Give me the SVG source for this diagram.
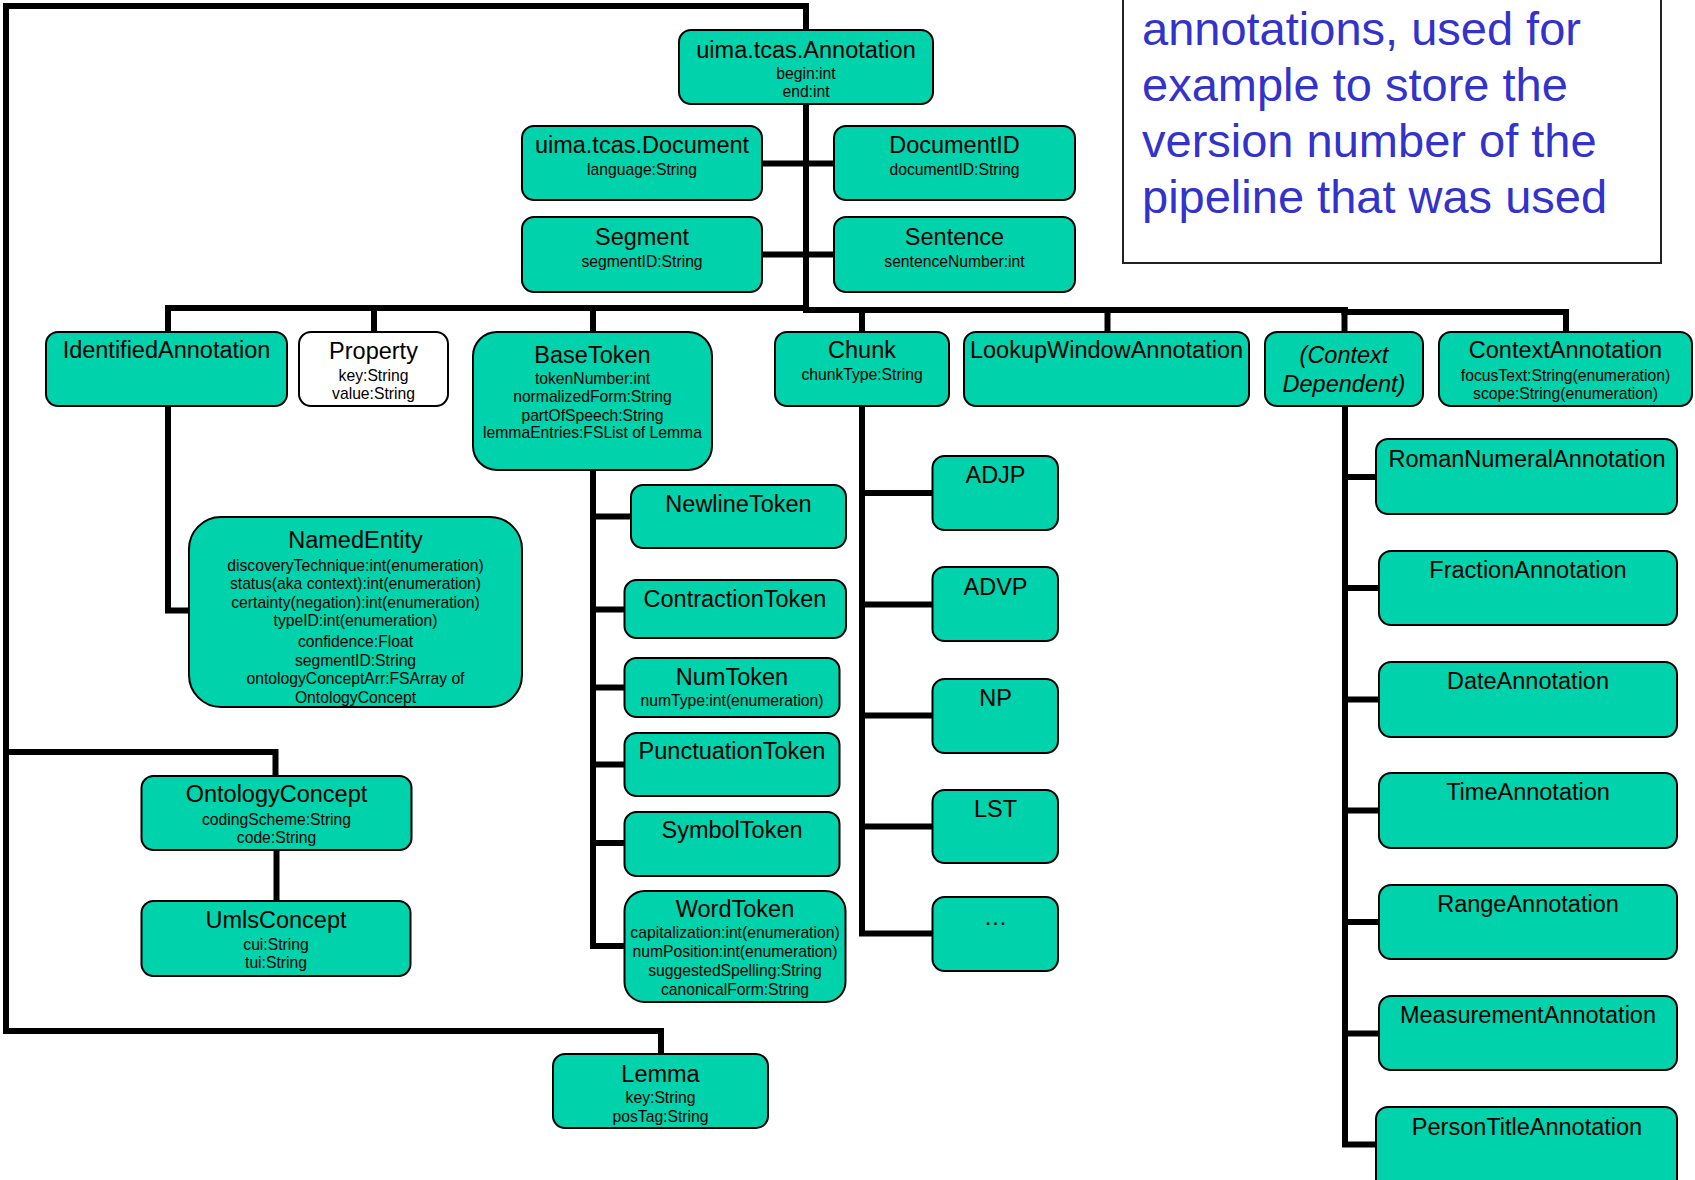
<svg xmlns="http://www.w3.org/2000/svg" width="1695" height="1180" viewBox="0 0 1695 1180">
  <style>
    .box { fill: #00D2AB; stroke: #000; stroke-width: 2; }
    .box.plain { fill: #fff; }
    .t { font-family: "Liberation Sans", Arial, sans-serif; font-size: 23.5px; fill: #000; text-anchor: middle; }
    .a { font-family: "Liberation Sans", Arial, sans-serif; font-size: 15.7px; fill: #000; text-anchor: middle; }
    .it { font-style: italic; }
    .wire { fill: none; stroke: #000; stroke-width: 6; stroke-linejoin: miter; stroke-linecap: square; }
    .note { fill: #fff; stroke: #222; stroke-width: 2; }
    .notetext { font-family: "Liberation Sans", Arial, sans-serif; font-size: 47px; fill: #3333CC; }
  </style>

  <rect width="1695" height="1180" fill="#fff"/>

  <!-- explanatory note, top right -->
  <g id="note">
    <rect class="note" x="1123" y="-10" width="538" height="273"/>
    <text class="notetext" x="1142" y="45">annotations, used for</text>
    <text class="notetext" x="1142" y="101">example to store the</text>
    <text class="notetext" x="1142" y="157">version number of the</text>
    <text class="notetext" x="1142" y="213">pipeline that was used</text>
  </g>

  <!-- inheritance / containment wiring -->
  <g id="connectors" class="wire">
    <path d="M806,30 V6 H6 V1031 H661 V1054"/>
    <path d="M6,752 H275.5 V776"/>
    <path d="M276.5,850 V901"/>
    <path d="M806,104 V310"/>
    <path d="M762,163.5 H834"/>
    <path d="M762,254.5 H834"/>
    <path d="M168,332 V308 H806"/>
    <path d="M374,308 V332"/>
    <path d="M593,308 V332"/>
    <path d="M806,310 H1345"/>
    <path d="M862,310 V332"/>
    <path d="M1107.5,310 V332"/>
    <path d="M1344.5,310 V332"/>
    <path d="M1344.5,312 H1566 V332"/>
    <path d="M168,406 V610.5 H189"/>
    <path d="M593,470 V946 H624"/>
    <path d="M593,516.5 H631"/>
    <path d="M593,609.5 H624"/>
    <path d="M593,687.5 H624"/>
    <path d="M593,764.5 H624"/>
    <path d="M593,843 H624"/>
    <path d="M862,406 V933.5 H932"/>
    <path d="M862,493 H932"/>
    <path d="M862,604.5 H932"/>
    <path d="M862,715.5 H932"/>
    <path d="M862,826.5 H932"/>
    <path d="M1345,406 V1144.5 H1376"/>
    <path d="M1345,477 H1376"/>
    <path d="M1345,588 H1379"/>
    <path d="M1345,699.5 H1379"/>
    <path d="M1345,810.5 H1379"/>
    <path d="M1345,922 H1379"/>
    <path d="M1345,1033.5 H1379"/>
  </g>

  <g id="annotation">
    <rect class="box" x="679" y="30" width="254" height="74" rx="12"/>
    <text class="t" x="806" y="58">uima.tcas.Annotation</text>
    <text class="a" x="806" y="79">begin:int</text>
    <text class="a" x="806" y="97">end:int</text>
  </g>
  <g id="document">
    <rect class="box" x="522" y="126" width="240" height="74" rx="12"/>
    <text class="t" x="642" y="153">uima.tcas.Document</text>
    <text class="a" x="642" y="175">language:String</text>
  </g>
  <g id="documentid">
    <rect class="box" x="834" y="126" width="241" height="74" rx="12"/>
    <text class="t" x="954.5" y="153">DocumentID</text>
    <text class="a" x="954.5" y="175">documentID:String</text>
  </g>
  <g id="segment">
    <rect class="box" x="522" y="217" width="240" height="75" rx="12"/>
    <text class="t" x="642" y="245">Segment</text>
    <text class="a" x="642" y="267">segmentID:String</text>
  </g>
  <g id="sentence">
    <rect class="box" x="834" y="217" width="241" height="75" rx="12"/>
    <text class="t" x="954.5" y="245">Sentence</text>
    <text class="a" x="954.5" y="267">sentenceNumber:int</text>
  </g>

  <g id="identifiedannotation">
    <rect class="box" x="46" y="332" width="241" height="74" rx="12"/>
    <text class="t" x="166.5" y="358">IdentifiedAnnotation</text>
  </g>
  <g id="property">
    <rect class="box plain" x="299" y="332" width="149" height="74" rx="12"/>
    <text class="t" x="373.5" y="359">Property</text>
    <text class="a" x="373.5" y="381">key:String</text>
    <text class="a" x="373.5" y="399">value:String</text>
  </g>
  <g id="basetoken">
    <rect class="box" x="473" y="332" width="239" height="138" rx="24"/>
    <text class="t" x="592.5" y="363">BaseToken</text>
    <text class="a" x="592.5" y="384">tokenNumber:int</text>
    <text class="a" x="592.5" y="402">normalizedForm:String</text>
    <text class="a" x="592.5" y="420.5">partOfSpeech:String</text>
    <text class="a" x="592.5" y="438">lemmaEntries:FSList of Lemma</text>
  </g>
  <g id="chunk">
    <rect class="box" x="775" y="332" width="174" height="74" rx="12"/>
    <text class="t" x="862" y="358">Chunk</text>
    <text class="a" x="862" y="380">chunkType:String</text>
  </g>
  <g id="lookupwindowannotation">
    <rect class="box" x="964" y="332" width="285" height="74" rx="12"/>
    <text class="t" x="1106.5" y="358">LookupWindowAnnotation</text>
  </g>
  <g id="contextdependent">
    <rect class="box" x="1265" y="332" width="158" height="74" rx="12"/>
    <text class="t it" x="1344" y="363">(Context</text>
    <text class="t it" x="1344" y="392">Dependent)</text>
  </g>
  <g id="contextannotation">
    <rect class="box" x="1439" y="332" width="253" height="74" rx="12"/>
    <text class="t" x="1565.5" y="358">ContextAnnotation</text>
    <text class="a" x="1565.5" y="381">focusText:String(enumeration)</text>
    <text class="a" x="1565.5" y="399">scope:String(enumeration)</text>
  </g>

  <g id="namedentity">
    <rect class="box" x="189" y="517" width="333" height="190" rx="32"/>
    <text class="t" x="355.5" y="548">NamedEntity</text>
    <text class="a" x="355.5" y="571">discoveryTechnique:int(enumeration)</text>
    <text class="a" x="355.5" y="589">status(aka context):int(enumeration)</text>
    <text class="a" x="355.5" y="607.5">certainty(negation):int(enumeration)</text>
    <text class="a" x="355.5" y="626">typeID:int(enumeration)</text>
    <text class="a" x="355.5" y="646.5">confidence:Float</text>
    <text class="a" x="355.5" y="665.5">segmentID:String</text>
    <text class="a" x="355.5" y="683.5">ontologyConceptArr:FSArray of</text>
    <text class="a" x="355.5" y="702.5">OntologyConcept</text>
  </g>
  <g id="ontologyconcept">
    <rect class="box" x="141.5" y="776" width="270" height="74" rx="12"/>
    <text class="t" x="276.5" y="802">OntologyConcept</text>
    <text class="a" x="276.5" y="825">codingScheme:String</text>
    <text class="a" x="276.5" y="843">code:String</text>
  </g>
  <g id="umlsconcept">
    <rect class="box" x="141.5" y="901" width="269" height="75" rx="12"/>
    <text class="t" x="276" y="928">UmlsConcept</text>
    <text class="a" x="276" y="950">cui:String</text>
    <text class="a" x="276" y="968">tui:String</text>
  </g>
  <g id="lemma">
    <rect class="box" x="553" y="1054" width="215" height="74" rx="12"/>
    <text class="t" x="660.5" y="1082">Lemma</text>
    <text class="a" x="660.5" y="1103">key:String</text>
    <text class="a" x="660.5" y="1122">posTag:String</text>
  </g>

  <g id="newlinetoken">
    <rect class="box" x="631" y="485" width="215" height="63" rx="12"/>
    <text class="t" x="738.5" y="512">NewlineToken</text>
  </g>
  <g id="contractiontoken">
    <rect class="box" x="624.5" y="580" width="221.5" height="58" rx="12"/>
    <text class="t" x="735" y="607">ContractionToken</text>
  </g>
  <g id="numtoken">
    <rect class="box" x="624.5" y="658" width="215" height="59" rx="12"/>
    <text class="t" x="732" y="685">NumToken</text>
    <text class="a" x="732" y="706">numType:int(enumeration)</text>
  </g>
  <g id="punctuationtoken">
    <rect class="box" x="624.5" y="733" width="215" height="63" rx="12"/>
    <text class="t" x="732" y="759">PunctuationToken</text>
  </g>
  <g id="symboltoken">
    <rect class="box" x="624.5" y="812" width="215" height="64" rx="12"/>
    <text class="t" x="732" y="838">SymbolToken</text>
  </g>
  <g id="wordtoken">
    <rect class="box" x="624.5" y="891" width="221" height="111" rx="20"/>
    <text class="t" x="735" y="917">WordToken</text>
    <text class="a" x="735" y="938">capitalization:int(enumeration)</text>
    <text class="a" x="735" y="957">numPosition:int(enumeration)</text>
    <text class="a" x="735" y="976">suggestedSpelling:String</text>
    <text class="a" x="735" y="995">canonicalForm:String</text>
  </g>

  <g id="adjp">
    <rect class="box" x="932.5" y="456" width="125.5" height="74" rx="12"/>
    <text class="t" x="995.5" y="483">ADJP</text>
  </g>
  <g id="advp">
    <rect class="box" x="932.5" y="567" width="125.5" height="74" rx="12"/>
    <text class="t" x="995.5" y="595">ADVP</text>
  </g>
  <g id="np">
    <rect class="box" x="932.5" y="679" width="125.5" height="74" rx="12"/>
    <text class="t" x="995.5" y="706">NP</text>
  </g>
  <g id="lst">
    <rect class="box" x="932.5" y="790" width="125.5" height="73" rx="12"/>
    <text class="t" x="995.5" y="817">LST</text>
  </g>
  <g id="morechunks">
    <rect class="box" x="932.5" y="897" width="125.5" height="74" rx="12"/>
    <text class="t" x="995.5" y="925">…</text>
  </g>

  <g id="romannumeralannotation">
    <rect class="box" x="1376" y="439" width="301" height="75" rx="12"/>
    <text class="t" x="1527" y="467">RomanNumeralAnnotation</text>
  </g>
  <g id="fractionannotation">
    <rect class="box" x="1379" y="551" width="298" height="74" rx="12"/>
    <text class="t" x="1528" y="578">FractionAnnotation</text>
  </g>
  <g id="dateannotation">
    <rect class="box" x="1379" y="662" width="298" height="75" rx="12"/>
    <text class="t" x="1528" y="689">DateAnnotation</text>
  </g>
  <g id="timeannotation">
    <rect class="box" x="1379" y="773" width="298" height="75" rx="12"/>
    <text class="t" x="1528" y="800">TimeAnnotation</text>
  </g>
  <g id="rangeannotation">
    <rect class="box" x="1379" y="885" width="298" height="74" rx="12"/>
    <text class="t" x="1528" y="912">RangeAnnotation</text>
  </g>
  <g id="measurementannotation">
    <rect class="box" x="1379" y="996" width="298" height="74" rx="12"/>
    <text class="t" x="1528" y="1023">MeasurementAnnotation</text>
  </g>
  <g id="persontitleannotation">
    <rect class="box" x="1376" y="1107" width="301" height="84" rx="12"/>
    <text class="t" x="1527" y="1135">PersonTitleAnnotation</text>
  </g>
</svg>
